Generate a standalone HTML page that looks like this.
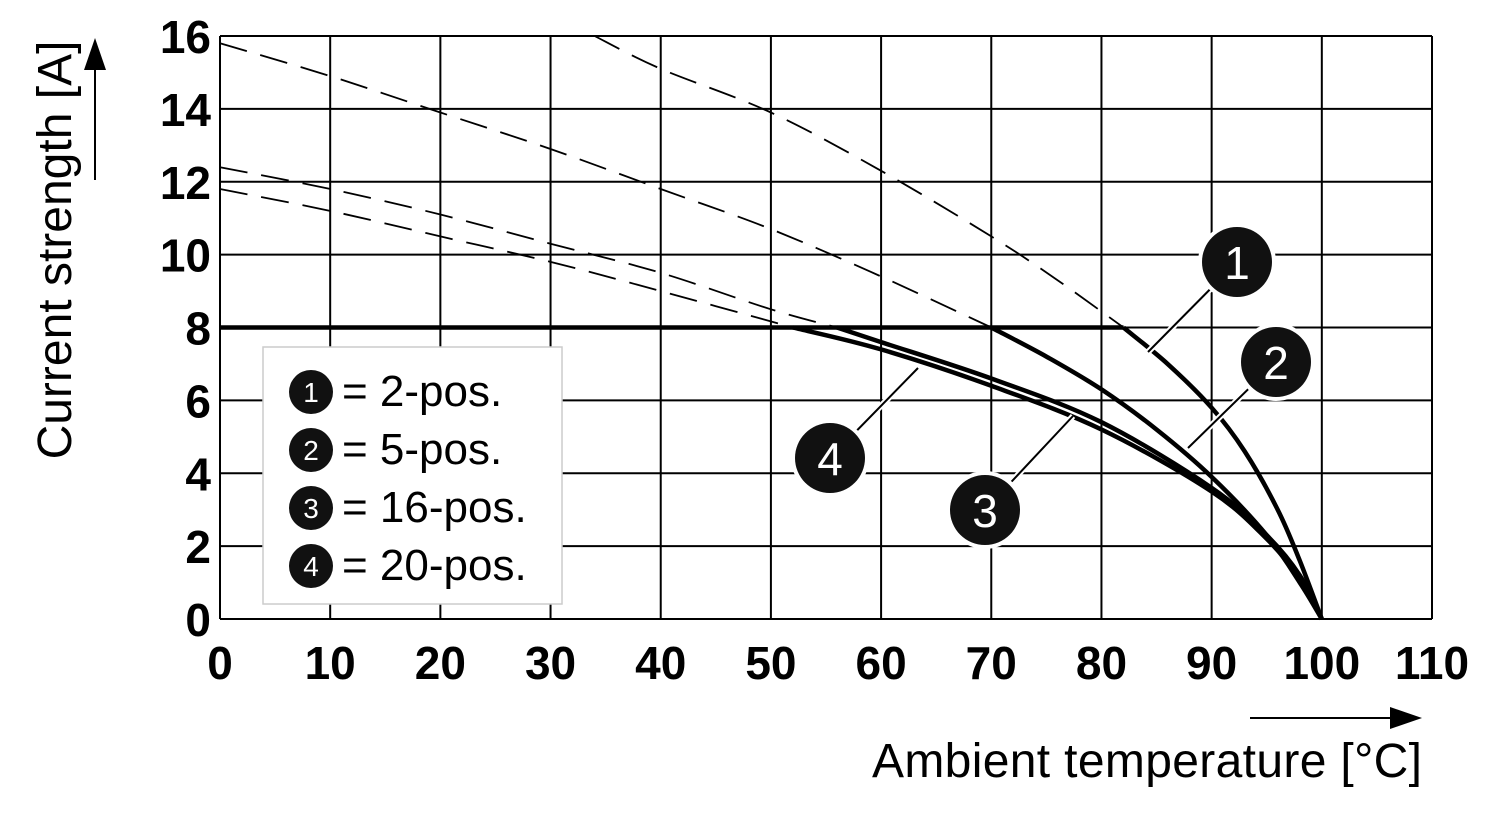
<!DOCTYPE html>
<html><head><meta charset="utf-8"><style>
body{margin:0;background:#fff;}
svg text{font-family:"Liberation Sans",Arial,sans-serif;}
</style></head><body>
<svg id="chart" width="1500" height="820" viewBox="0 0 1500 820" xmlns="http://www.w3.org/2000/svg">
<g id="grid"></g>
<g id="series"></g>
<g id="ticks"></g>
<g id="callouts"></g>
<g>
<rect x="263" y="347" width="299" height="257" fill="#fff" stroke="#ccc" stroke-width="1.5"/>
<g id="legend-items"></g>
</g>
<text transform="translate(71,250) rotate(-90)" text-anchor="middle" font-size="48">Current strength [A]</text>
<g><line x1="95" y1="180" x2="95" y2="62" stroke="#000" stroke-width="2"/><polygon points="84,70 106,70 95,38" fill="#000"/></g>
<g><line x1="1250" y1="718" x2="1400" y2="718" stroke="#000" stroke-width="2"/><polygon points="1390,707 1390,729 1422,718" fill="#000"/></g>
<text x="1422" y="777" text-anchor="end" font-size="48" textLength="550">Ambient temperature [°C]</text>
</svg>
<script>
const xTicks=[0,10,20,30,40,50,60,70,80,90,100,110];
const yTicks=[0,2,4,6,8,10,12,14,16];
const c1Dash=[[34,16],[40,15.1],[50,13.9],[60,12.3],[70,10.5],[76,9.3],[82,8]];
const c1Solid=[[82,8],[86,7],[90,5.8],[93,4.6],[96,3],[98,1.6],[100,0]];
const c2Dash=[[0,15.8],[10,14.9],[20,13.9],[30,12.9],[40,11.8],[50,10.7],[60,9.4],[70,8]];
const c2Solid=[[70,8],[75,7.2],[80,6.3],[85,5.2],[90,3.9],[95,2.3],[98,1],[100,0]];
const c3Dash=[[0,12.4],[10,11.8],[20,11.1],[30,10.3],[40,9.5],[50,8.5],[56,8]];
const c3Solid=[[56,8],[60,7.6],[70,6.6],[80,5.4],[90,3.6],[95,2.3],[98,1.2],[100,0]];
const c4Dash=[[0,11.8],[10,11.2],[20,10.5],[30,9.8],[40,9],[52,8]];
const c4Solid=[[52,8],[60,7.4],[70,6.4],[80,5.2],[90,3.5],[95,2.2],[98,1.1],[100,0]];
const limitLine=[[0,8],[82,8]];
const legendLabels=["= 2-pos.","= 5-pos.","= 16-pos.","= 20-pos."];
const NS="http://www.w3.org/2000/svg";
const X=v=>220+v*(1212/110), Y=v=>619-v*(583/16);
function mk(p,tag,a){const e=document.createElementNS(NS,tag);for(const k in a)e.setAttribute(k,a[k]);p.appendChild(e);return e;}
const grid=document.getElementById('grid'),ser=document.getElementById('series'),tk=document.getElementById('ticks'),co=document.getElementById('callouts'),lg=document.getElementById('legend-items');
xTicks.forEach(t=>{const l=mk(grid,'line',{x1:X(t),x2:X(t),y1:Y(16),y2:Y(0),stroke:'#000','stroke-width':2});

const tx=mk(tk,'text',{x:X(t),y:679,'text-anchor':'middle','font-size':46,'font-weight':'bold'});tx.textContent=t;
});
yTicks.forEach(t=>{const l=mk(grid,'line',{x1:X(0),x2:X(110),y1:Y(t),y2:Y(t),stroke:'#000','stroke-width':2});

const tx=mk(tk,'text',{x:211,y:Y(t)+17,'text-anchor':'end','font-size':46,'font-weight':'bold'});tx.textContent=t;
});
function smooth(pts){const P=pts.map(p=>[X(p[0]),Y(p[1])]);let d='M'+P[0][0].toFixed(1)+','+P[0][1].toFixed(1);
for(let i=0;i<P.length-1;i++){const p0=P[i-1]||P[i],p1=P[i],p2=P[i+1],p3=P[i+2]||P[i+1];
const c1=[p1[0]+(p2[0]-p0[0])/6,p1[1]+(p2[1]-p0[1])/6],c2=[p2[0]-(p3[0]-p1[0])/6,p2[1]-(p3[1]-p1[1])/6];
d+=' C'+c1.map(v=>v.toFixed(1)).join(',')+' '+c2.map(v=>v.toFixed(1)).join(',')+' '+p2[0].toFixed(1)+','+p2[1].toFixed(1);}
return d;}
function path(pts,dash,w,name){
const e=mk(ser,'path',{d:smooth(pts),fill:'none',stroke:'#000','stroke-width':w,'stroke-dasharray':dash||'none','stroke-linejoin':'round'});
}
[[c1Dash,'curve-1-dashed'],[c2Dash,'curve-2-dashed'],[c3Dash,'curve-3-dashed'],[c4Dash,'curve-4-dashed']].forEach(a=>path(a[0],'28,14',1.8,a[1]));
[[c1Solid,'curve-1'],[c2Solid,'curve-2'],[c3Solid,'curve-3'],[c4Solid,'curve-4']].forEach(a=>path(a[0],null,4.5,a[1]));
path(limitLine,null,4.5,'limit-line-8a');
const callouts=[[1237,262,1148,352,'1'],[1276,362,1188,448,'2'],[985,510,1073,416,'3'],[830,458,918,368,'4']];
callouts.forEach(c=>{const g=mk(co,'g',{});
mk(g,'line',{x1:c[2],y1:c[3],x2:c[0],y2:c[1],stroke:'#fff','stroke-width':6});
mk(g,'line',{x1:c[2],y1:c[3],x2:c[0],y2:c[1],stroke:'#000','stroke-width':2});
mk(g,'circle',{cx:c[0],cy:c[1],r:39,fill:'#fff'});mk(g,'circle',{cx:c[0],cy:c[1],r:35,fill:'#111'});
const t=mk(g,'text',{x:c[0],y:c[1]+17,'text-anchor':'middle','font-size':46,fill:'#fff'});t.textContent=c[4];});
legendLabels.forEach((s,i)=>{const y=390+i*58;const g=mk(lg,'g',{});
mk(g,'circle',{cx:311,cy:y+2,r:22,fill:'#111'});const n=mk(g,'text',{x:311,y:y+12,'text-anchor':'middle','font-size':28,fill:'#fff'});n.textContent=i+1;
const t=mk(g,'text',{x:342,y:y+16,'font-size':44});t.textContent=s;});
</script>
</body></html>
